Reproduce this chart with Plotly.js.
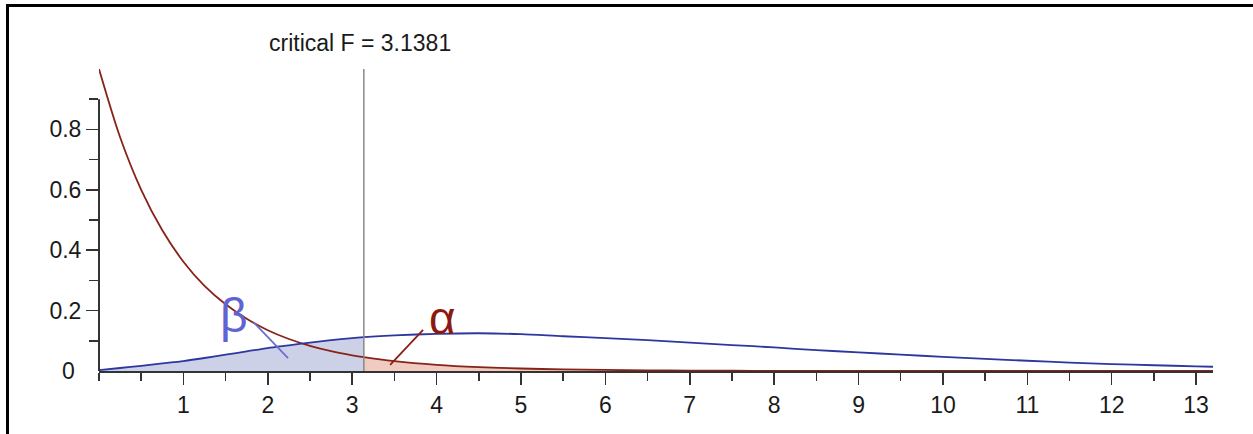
<!DOCTYPE html>
<html>
<head>
<meta charset="utf-8">
<script src="https://cdn.plot.ly/plotly-3.0.1.min.js"></script>
<style>
  html, body { margin: 0; padding: 0; background: #fff; }
  #wrap { position: relative; width: 1253px; height: 434px; }
  #chart { width: 1253px; height: 434px; }
  #frame { position: absolute; left: 6px; top: 4px; width: 1247px; height: 430px;
           border-left: 3px solid #000; border-top: 3px solid #000; pointer-events: none; }
</style>
</head>
<body>
<div id="wrap"><div id="chart"></div><div id="frame"></div></div>
<script>
// ---- data ----
const critF = 3.1381;
const xVals = [0, 0.25, 0.5, 0.75, 1, 1.25, 1.5, 1.75, 2, 2.25, 2.5, 2.75, 3, 3.1381,
  3.5, 4, 4.5, 5, 5.5, 6, 6.5, 7, 7.5, 8, 8.5, 9, 9.5, 10, 10.5, 11, 11.5, 12, 12.5, 13, 13.2];
// central F density (null hypothesis), red curve
const centralF = [1.0, 0.774, 0.600, 0.466, 0.362, 0.282, 0.221, 0.173, 0.135, 0.106, 0.0835,
  0.0658, 0.0519, 0.0456, 0.0325, 0.0205, 0.0130, 0.0083, 0.0053, 0.0034, 0.0022, 0.0015,
  0.0009, 0.0006, 0.0004, 0.0003, 0.0002, 0.0001, 0.0001, 0.0001, 0, 0, 0, 0, 0];
// noncentral F density (alternative hypothesis), blue curve
const noncentralF = [0.003, 0.010, 0.017, 0.025, 0.033, 0.043, 0.054, 0.065, 0.076, 0.085,
  0.094, 0.102, 0.109, 0.112, 0.118, 0.123, 0.125, 0.122, 0.115, 0.109, 0.102, 0.094, 0.086,
  0.078, 0.069, 0.062, 0.054, 0.047, 0.040, 0.034, 0.028, 0.023, 0.019, 0.0155, 0.014];
const xTicks = [1, 2, 3, 4, 5, 6, 7, 8, 9, 10, 11, 12, 13];
const yTicks = [0.2, 0.4, 0.6, 0.8];
const yMinorTicks = [0.1, 0.3, 0.5, 0.7, 0.9];
const critLabel = 'critical F = ' + critF;
const betaLabel = 'β';
const alphaLabel = 'α';

// ---- build regions ----
const betaX = [], betaY = [], alphaX = [], alphaY = [];
xVals.forEach((x, i) => {
  if (x <= critF) { betaX.push(x); betaY.push(noncentralF[i]); }
  if (x >= critF) { alphaX.push(x); alphaY.push(centralF[i]); }
});

const redLine = 'rgb(135,35,25)';
const blueLine = 'rgb(45,55,160)';
const font = 'Liberation Sans, Arial, Helvetica, sans-serif';

const traces = [
  { x: betaX, y: betaY, type: 'scatter', mode: 'lines', fill: 'tozeroy',
    fillcolor: 'rgba(200,204,230,0.9)', line: { width: 0, shape: 'spline' }, hoverinfo: 'skip' },
  { x: alphaX, y: alphaY, type: 'scatter', mode: 'lines', fill: 'tozeroy',
    fillcolor: 'rgba(240,200,190,0.95)', line: { width: 0, shape: 'spline' }, hoverinfo: 'skip' },
  { x: xVals, y: centralF, type: 'scatter', mode: 'lines',
    line: { color: redLine, width: 1.8, shape: 'spline', smoothing: 0.8 } },
  { x: xVals, y: noncentralF, type: 'scatter', mode: 'lines',
    line: { color: blueLine, width: 1.8, shape: 'spline', smoothing: 0.8 } }
];

const layout = {
  width: 1253, height: 434,
  margin: { l: 99, r: 40, t: 68.5, b: 63, pad: 0 },
  paper_bgcolor: '#fff', plot_bgcolor: '#fff',
  showlegend: false,
  font: { family: font, size: 23, color: '#1a1a1a' },
  xaxis: {
    range: [0, 13.2], tickmode: 'array', tickvals: xTicks,
    ticks: 'outside', ticklen: 12, tickwidth: 1.5, tickcolor: '#333',
    showline: true, linecolor: '#333', linewidth: 2,
    showgrid: false, zeroline: false,
    minor: { dtick: 0.5, tick0: 0, ticks: 'outside', ticklen: 8, tickwidth: 1.5, tickcolor: '#333', showgrid: false },
    tickfont: { size: 23, color: '#1a1a1a', family: font }
  },
  yaxis: {
    range: [0, 1.0], tickmode: 'array', tickvals: yTicks,
    ticks: 'outside', ticklen: 12, tickwidth: 1.5, tickcolor: '#333',
    showline: false, showgrid: false, zeroline: false,
    minor: { tickmode: 'array', tickvals: yMinorTicks, ticks: 'outside', ticklen: 9, tickwidth: 1.5, tickcolor: '#333', showgrid: false },
    tickfont: { size: 23, color: '#1a1a1a', family: font }
  },
  shapes: [
    { type: 'line', xref: 'paper', yref: 'y', x0: 0, x1: 0, y0: 0, y1: 0.9,
      line: { color: '#333', width: 2 } },
    { type: 'line', xref: 'x', yref: 'y', x0: critF, x1: critF, y0: 0, y1: 1.0,
      line: { color: '#888', width: 1.5 } },
    { type: 'line', xref: 'x', yref: 'y', x0: 1.83, y0: 0.162, x1: 2.24, y1: 0.043,
      line: { color: 'rgb(105,110,210)', width: 1.8 } },
    { type: 'line', xref: 'x', yref: 'y', x0: 3.84, y0: 0.136, x1: 3.45, y1: 0.020,
      line: { color: 'rgb(140,30,20)', width: 1.8 } }
  ],
  annotations: [
    { xref: 'x', yref: 'y', x: critF, y: 1.0, yanchor: 'bottom', xanchor: 'center',
      xshift: -4, yshift: 11, text: critLabel, showarrow: false,
      font: { family: font, size: 23, color: '#1a1a1a' } },
    { xref: 'paper', yref: 'y', x: 0, y: 0, xanchor: 'right', yanchor: 'middle',
      xshift: -22, text: '0', showarrow: false, font: { family: font, size: 23, color: '#1a1a1a' } },
    { xref: 'x', yref: 'y', x: 1.6, y: 0.185, xanchor: 'center', yanchor: 'middle',
      text: betaLabel, showarrow: false, font: { family: font, size: 48, color: 'rgb(95,100,210)' } },
    { xref: 'x', yref: 'y', x: 4.07, y: 0.175, xanchor: 'center', yanchor: 'middle',
      text: alphaLabel, showarrow: false, font: { family: font, size: 46, color: 'rgb(140,25,15)' } }
  ]
};

Plotly.newPlot('chart', traces, layout, { displayModeBar: false, staticPlot: true });
</script>
</body>
</html>
